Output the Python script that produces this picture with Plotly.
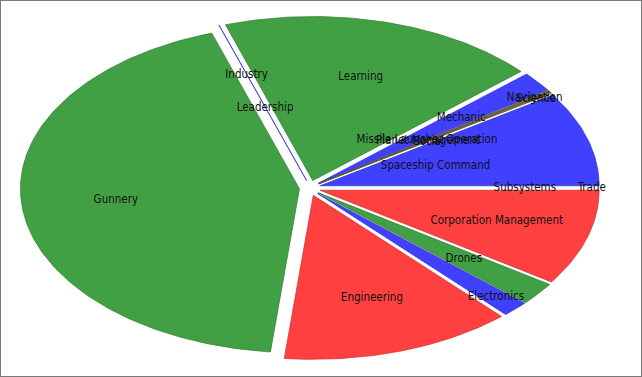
import numpy as np
import plotly.graph_objects as go

# ---- data ----
categories = ["Corporation Management", "Drones", "Electronics", "Engineering",
              "Gunnery", "Industry", "Leadership", "Learning", "Mechanic",
              "Missile Launcher Operation", "Navigation", "Planet Management",
              "Science", "Social", "Spaceship Command", "Subsystems", "Trade"]
values = [9.44, 2.25, 1.53, 13.44, 43.25, 0.03, 0.0, 18.47, 1.94,
          0.04, 0.14, 0.03, 0.08, 0.06, 9.30, 0.0, 0.0]

# ---- style ----
fills = ["rgb(255,64,64)", "rgb(65,160,67)", "rgb(64,64,255)"]
lines = ["rgb(205,45,45)", "rgb(45,125,45)", "rgb(45,45,215)"]
label_r = [0.70, 0.70, 0.94, 0.71, 0.70, 0.725, 0.515, 0.70, 0.69,
           0.51, 0.975, 0.51, 0.975, 0.51, 0.47, 0.77, 1.01]
explode_x, explode_y = 0.038, 0.047
W, H = 642, 377
cx, cy, rx, ry = 310.0, 188.0, 279.0, 164.0

total = sum(values)
fig = go.Figure()
start = 0.0
mids = []
for i, (name, v) in enumerate(zip(categories, values)):
    span = 2 * np.pi * v / total
    end = start + span
    mid = start + span / 2
    mids.append(mid)
    if v > 0:
        ox, oy = explode_x * np.cos(mid), -explode_y * np.sin(mid)
        n = max(2, int(np.degrees(span)) + 2)
        t = np.linspace(start, end, n)
        xs = np.concatenate([[ox], ox + np.cos(t), [ox]])
        ys = np.concatenate([[oy], oy - np.sin(t), [oy]])
        fig.add_trace(go.Scatter(
            x=xs, y=ys, mode="lines", fill="toself",
            fillcolor=fills[i % 3],
            line=dict(color=lines[i % 3], width=0.7),
            name=name, hoverinfo="name", showlegend=False))
    start = end

lx = [r * np.cos(m) for r, m in zip(label_r, mids)]
ly = [-r * np.sin(m) for r, m in zip(label_r, mids)]
fig.add_trace(go.Scatter(
    x=lx, y=ly, mode="text", text=categories,
    textfont=dict(family="DejaVu Sans Condensed, DejaVu Sans", size=11.5, color="#111111"),
    textposition="middle center", hoverinfo="skip", showlegend=False))

fig.update_layout(
    width=W, height=H, autosize=False,
    margin=dict(l=0, r=0, t=0, b=0),
    paper_bgcolor="white", plot_bgcolor="white",
    xaxis=dict(range=[-cx / rx, (W - cx) / rx], visible=False, fixedrange=True),
    yaxis=dict(range=[-(H - cy) / ry, cy / ry], visible=False, fixedrange=True),
    shapes=[dict(type="rect", xref="paper", yref="paper", x0=0, y0=0, x1=1, y1=1,
                 line=dict(color="#7a7a7a", width=2), layer="above")],
)
fig.write_html("out.html", config={"displayModeBar": False},
               post_script="document.body.style.margin='0';document.body.style.overflow='hidden';")
